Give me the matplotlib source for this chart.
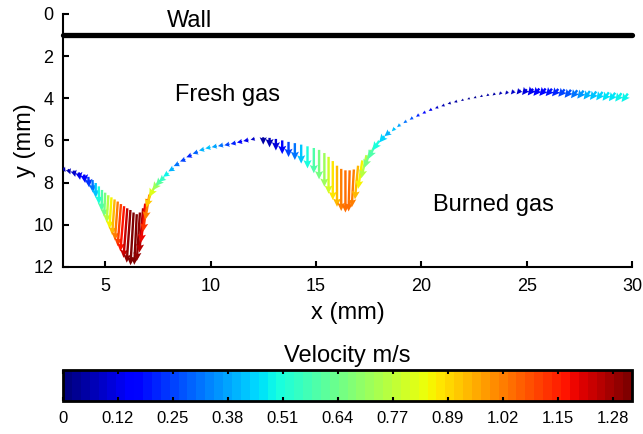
import numpy as np
import matplotlib.pyplot as plt
import matplotlib as mpl

plt.rcParams["font.family"] = ["Liberation Sans", "DejaVu Sans"]

# arrow tails (mm), arrow components (mm), and velocity (m/s) for colour
x = [3.0, 3.25, 3.5, 3.75, 4.0, 4.2, 4.4, 4.55, 4.7, 4.85, 5.0, 5.15, 5.3, 5.45, 5.6, 5.75, 5.9, 6.05, 6.2,
     6.35, 6.5,
     6.65, 6.8, 6.9, 7.0, 7.1, 7.2, 7.35, 7.5, 7.65, 7.8, 8.0, 8.25, 8.5, 8.8, 9.1, 9.4, 9.7, 10.0, 10.3,
     10.6, 10.9, 11.2, 11.5, 11.8, 12.1,
     12.5, 12.8, 13.1, 13.4, 13.7, 14.0, 14.3, 14.6, 14.9, 15.15, 15.4, 15.6, 15.8, 16.0, 16.2, 16.4,
     16.6, 16.8, 17.0, 17.2, 17.4, 17.6, 17.8, 18.0, 18.25, 18.5,
     18.75, 19.0, 19.3, 19.6, 19.9, 20.2, 20.5, 20.8, 21.1, 21.4, 21.7, 22.0, 22.3, 22.6, 22.9, 23.2,
     23.5, 23.8, 24.1, 24.4, 24.7, 25.0, 25.3, 25.6, 25.9, 26.2, 26.5, 26.8, 27.1, 27.4, 27.7, 28.0,
     28.3, 28.6, 28.9, 29.2, 29.5, 29.8]
y = [7.30, 7.36, 7.43, 7.52, 7.62, 7.73, 7.88, 8.02, 8.18, 8.35, 8.48, 8.60, 8.70, 8.80, 8.90, 9.02, 9.12, 9.22, 9.30,
     9.42, 9.50,
     9.42, 9.22, 9.00, 8.78, 8.57, 8.38, 8.18, 8.02, 7.88, 7.75, 7.55, 7.32, 7.10, 6.90, 6.70, 6.55, 6.42, 6.33, 6.27,
     6.22, 6.18, 6.12, 6.05, 5.98, 5.92,
     5.85, 5.88, 5.93, 6.00, 6.07, 6.13, 6.20, 6.28, 6.36, 6.45, 6.60, 6.78, 6.98, 7.20, 7.35, 7.42,
     7.42, 7.38, 7.20, 6.95, 6.70, 6.45, 6.22, 6.02, 5.80, 5.60,
     5.42, 5.25, 5.08, 4.92, 4.78, 4.65, 4.52, 4.42, 4.32, 4.22, 4.14, 4.07, 4.00, 3.94, 3.88, 3.82,
     3.77, 3.72, 3.68, 3.64, 3.60, 3.57, 3.55, 3.54, 3.54, 3.55, 3.56, 3.58, 3.60, 3.62, 3.64, 3.66,
     3.68, 3.70, 3.72, 3.74, 3.76, 3.78]
u = [0.12, 0.10, 0.08, 0.06, 0.05, 0.04, 0.02, 0.0, 0.0, -0.02, -0.05, -0.08, -0.10, -0.12, -0.14, -0.16, -0.18,
     -0.18, -0.18, -0.15, -0.12,
     -0.15, -0.18, -0.2, -0.2, -0.2, -0.25, -0.25, -0.25, -0.25, -0.25, -0.25, -0.25, -0.25, -0.25, -0.25, -0.25,
     -0.25, -0.25, -0.25, -0.25, -0.25, -0.25, -0.25, -0.25, -0.2,
     0.0, 0.0, 0.0, 0.0, 0.0, 0.0, 0.0, 0.0, 0.0, 0.0, 0.0, 0.0, 0.0, 0.0, 0.0, 0.0,
     -0.05, -0.1, -0.15, -0.2, -0.25, -0.3, -0.3, -0.3, -0.25, -0.25,
     -0.15, -0.15, -0.15, -0.15, -0.15, -0.15, -0.15, -0.15, -0.15, -0.15, -0.15, -0.12, -0.12, -0.12, -0.12, -0.12,
     -0.12, -0.12, -0.12, -0.15, -0.18, -0.22, -0.25, -0.28, -0.30, -0.30, -0.30, -0.30, -0.30, -0.30, -0.30, -0.30,
     -0.30, -0.30, -0.30, -0.30, -0.30, -0.30]
v = [0.20, 0.25, 0.30, 0.35, 0.40, 0.50, 0.60, 0.70, 0.85, 1.00, 1.15, 1.30, 1.50, 1.70, 1.85, 2.00, 2.15, 2.35, 2.50,
     2.50, 2.40,
     2.30, 2.10, 1.85, 1.55, 1.20, 0.80, 0.50, 0.35, 0.28, 0.22, 0.18, 0.15, 0.12, 0.10, 0.10, 0.08, 0.06, 0.05, 0.05,
     0.05, 0.05, 0.05, 0.05, 0.05, 0.05,
     0.35, 0.45, 0.55, 0.65, 0.72, 0.80, 0.90, 1.05, 1.20, 1.40, 1.60, 1.75, 1.85, 1.95, 2.00, 2.00,
     1.95, 1.80, 1.60, 1.35, 1.10, 0.85, 0.65, 0.45, 0.30, 0.20,
     0.15, 0.12, 0.10, 0.10, 0.10, 0.08, 0.08, 0.06, 0.06, 0.05, 0.05, 0.05, 0.05, 0.06, 0.06, 0.08,
     0.10, 0.12, 0.15, 0.18, 0.22, 0.28, 0.32, 0.35, 0.35, 0.35, 0.35, 0.35, 0.38, 0.38, 0.38, 0.40,
     0.40, 0.40, 0.40, 0.40, 0.40, 0.40]
speed = [0.05, 0.08, 0.10, 0.14, 0.18, 0.24, 0.32, 0.42, 0.50, 0.58, 0.66, 0.75, 0.85, 0.95, 1.02, 1.10, 1.17, 1.24,
         1.30, 1.32, 1.32,
         1.30, 1.25, 1.20, 1.12, 1.02, 0.92, 0.82, 0.72, 0.62, 0.55, 0.48, 0.40, 0.32, 0.26, 0.22, 0.30, 0.40, 0.42,
         0.38, 0.32, 0.25, 0.22, 0.18, 0.14, 0.10,
         0.05, 0.08, 0.12, 0.18, 0.25, 0.33, 0.42, 0.50, 0.58, 0.65, 0.72, 0.80, 0.88, 0.95, 1.02, 1.05,
         1.05, 1.02, 0.95, 0.85, 0.75, 0.65, 0.58, 0.50, 0.45, 0.40,
         0.42, 0.38, 0.33, 0.28, 0.22, 0.18, 0.14, 0.10, 0.08, 0.06, 0.05, 0.05, 0.04, 0.04, 0.05, 0.05,
         0.06, 0.07, 0.08, 0.09, 0.10, 0.12, 0.14, 0.16, 0.18, 0.20, 0.22, 0.25, 0.28, 0.32, 0.36, 0.40,
         0.42, 0.44, 0.46, 0.47, 0.48, 0.48]

cb_ticks = [0, 0.128, 0.256, 0.384, 0.512, 0.64, 0.768, 0.896, 1.024, 1.152, 1.28]
cb_labels = ["0", "0.12", "0.25", "0.38", "0.51", "0.64", "0.77", "0.89", "1.02", "1.15", "1.28"]

cmap = plt.get_cmap("jet", 64)
norm = mpl.colors.Normalize(vmin=0, vmax=1.325)

fig = plt.figure(figsize=(6.43, 4.34), dpi=100)
ax = fig.add_axes([0.098, 0.385, 0.885, 0.583])

ax.quiver(x, y, u, v, speed, cmap=cmap, norm=norm, angles="xy", scale_units="xy", scale=1,
          width=0.0042, headwidth=3.4, headlength=3.5, headaxislength=3.0, zorder=3)

ax.plot([3, 30], [1, 1], color="black", lw=3.8, solid_capstyle="round", clip_on=False)
ax.text(9.0, 0.35, "Wall", fontsize=17, ha="center", va="center")
ax.text(10.8, 3.85, "Fresh gas", fontsize=17, ha="center", va="center")
ax.text(23.4, 9.05, "Burned gas", fontsize=17, ha="center", va="center")

ax.set_xlim(3, 30)
ax.set_ylim(12, 0)
ax.set_xticks([5, 10, 15, 20, 25, 30])
ax.set_yticks([0, 2, 4, 6, 8, 10, 12])
ax.spines["top"].set_visible(False)
ax.spines["right"].set_visible(False)
for s in ["left", "bottom"]:
    ax.spines[s].set_linewidth(1.5)
ax.tick_params(direction="in", length=4, width=1.5, labelsize=13)
ax.tick_params(axis="x", pad=8)
ax.tick_params(axis="y", pad=7)
ax.set_xlabel("x (mm)", fontsize=17, labelpad=5)
ax.set_ylabel("y (mm)", fontsize=17, labelpad=-2)

cax = fig.add_axes([0.098, 0.076, 0.885, 0.071])
cb = fig.colorbar(mpl.cm.ScalarMappable(norm=norm, cmap=cmap), cax=cax, orientation="horizontal")
cb.set_ticks(cb_ticks)
cb.set_ticklabels(cb_labels)
cb.outline.set_linewidth(2)
cax.tick_params(direction="in", length=3, width=1.5, labelsize=12, top=True, pad=7)
cax.set_title("Velocity m/s", fontsize=17, pad=6)

fig.savefig("out.png", dpi=100)
